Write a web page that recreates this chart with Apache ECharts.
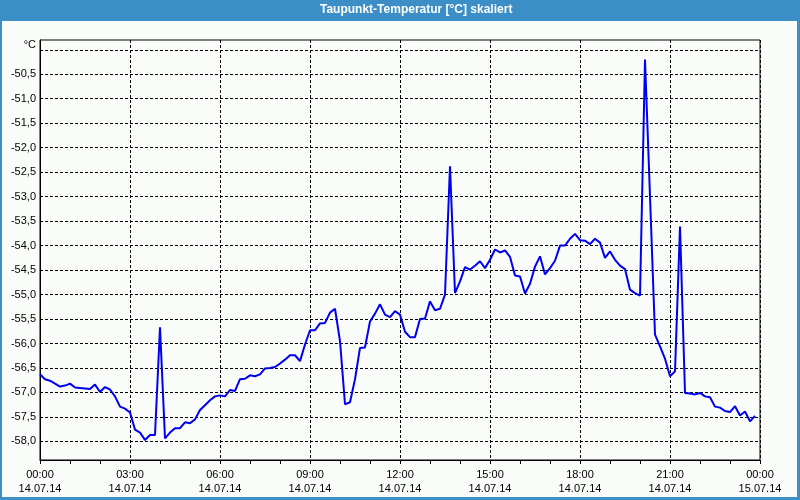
<!DOCTYPE html>
<html>
<head>
<meta charset="utf-8">
<script src="https://cdn.jsdelivr.net/npm/echarts@6/dist/echarts.min.js"></script>
<style>
html,body{margin:0;padding:0;background:#fafcfa;}
#chart{width:800px;height:500px;}
</style>
</head>
<body>
<div id="chart"></div>
<script>
// Title
var chartTitle = 'Taupunkt-Temperatur [°C] skaliert';

// Sampling: one value every 10 minutes starting 14.07.14 00:00
var stepMinutes = 10;

// Dew point temperature values [°C]
var dewPoint = [
  -56.63, -56.73, -56.76, -56.82, -56.88, -56.86, -56.82, -56.90, -56.91, -56.92,
  -56.93, -56.84, -56.99, -56.89, -56.94, -57.08, -57.29, -57.33, -57.41, -57.76,
  -57.82, -57.97, -57.87, -57.87, -55.67, -57.94, -57.82, -57.73, -57.73, -57.61,
  -57.63, -57.55, -57.36, -57.26, -57.16, -57.08, -57.06, -57.08, -56.95, -56.97,
  -56.73, -56.72, -56.65, -56.67, -56.63, -56.51, -56.50, -56.48, -56.41, -56.33,
  -56.24, -56.24, -56.36, -56.02, -55.73, -55.73, -55.59, -55.58, -55.37, -55.29,
  -55.95, -57.24, -57.20, -56.73, -56.09, -56.08, -55.55, -55.39, -55.20, -55.41,
  -55.46, -55.34, -55.41, -55.76, -55.87, -55.87, -55.50, -55.49, -55.14, -55.32,
  -55.29, -55.00, -52.38, -54.97, -54.73, -54.44, -54.49, -54.41, -54.32, -54.46,
  -54.29, -54.08, -54.14, -54.10, -54.23, -54.61, -54.63, -54.98, -54.78, -54.43,
  -54.22, -54.59, -54.46, -54.31, -54.00, -54.00, -53.86, -53.76, -53.89, -53.90,
  -53.97, -53.86, -53.94, -54.25, -54.12, -54.29, -54.41, -54.48, -54.90, -54.97,
  -55.02, -50.20, -52.99, -55.82, -56.06, -56.31, -56.67, -56.57, -53.61, -57.01,
  -57.02, -57.04, -57.01, -57.08, -57.10, -57.29, -57.31, -57.38, -57.40, -57.28,
  -57.47, -57.39, -57.59, -57.48
];

// X axis ticks (hours since 14.07.14 00:00)
var xTickValues = [0, 3, 6, 9, 12, 15, 18, 21, 24];
var xTickLabels = [
  '00:00\n14.07.14', '03:00\n14.07.14', '06:00\n14.07.14', '09:00\n14.07.14',
  '12:00\n14.07.14', '15:00\n14.07.14', '18:00\n14.07.14', '21:00\n14.07.14',
  '00:00\n15.07.14'
];

// Y axis ticks
var yTickValues = [-58, -57.5, -57, -56.5, -56, -55.5, -55, -54.5, -54, -53.5, -53, -52.5, -52, -51.5, -51, -50.5, -50];
var yTickLabels = ['-58,0', '-57,5', '-57,0', '-56,5', '-56,0', '-55,5', '-55,0', '-54,5', '-54,0', '-53,5', '-53,0', '-52,5', '-52,0', '-51,5', '-51,0', '-50,5', '°C'];

var seriesData = dewPoint.map(function (v, i) { return [i * stepMinutes / 60, v]; });

var font = '"Liberation Sans", Arial, sans-serif';
var chart = echarts.init(document.getElementById('chart'), null, {renderer: 'canvas'});

chart.setOption({
  animation: false,
  backgroundColor: '#fafcfa',
  textStyle: {fontFamily: font},
  graphic: [
    {type: 'rect', shape: {x: 0, y: 0, width: 800, height: 21}, style: {fill: '#3c8fc6'}, z: -1},
    {type: 'rect', shape: {x: 0, y: 0, width: 2, height: 500}, style: {fill: '#3c8fc6'}, z: -1},
    {type: 'rect', shape: {x: 797, y: 0, width: 3, height: 500}, style: {fill: '#3c8fc6'}, z: -1},
    {type: 'rect', shape: {x: 0, y: 497, width: 800, height: 3}, style: {fill: '#3c8fc6'}, z: -1}
  ],
  title: {
    text: chartTitle,
    left: 320,
    top: 4,
    padding: 0,
    textStyle: {color: '#ffffff', fontWeight: 'bold', fontSize: 12, fontFamily: font}
  },
  grid: {
    left: 40, top: 40, width: 720, height: 420,
    show: true, borderColor: '#000', borderWidth: 1, backgroundColor: 'transparent'
  },
  xAxis: {
    type: 'value',
    min: 0, max: 24, interval: 3,
    axisLine: {show: true, lineStyle: {color: '#000', width: 1}},
    axisTick: {show: true, inside: false, length: 4, lineStyle: {color: '#000'}},
    minorTick: {show: true, splitNumber: 3, length: 4, lineStyle: {color: '#000'}},
    splitLine: {show: true, lineStyle: {color: '#000', type: [3, 2], width: 1}},
    axisLabel: {
      margin: 8, color: '#000', fontSize: 11, lineHeight: 14, fontFamily: font,
      formatter: function (v) { var k = xTickValues.indexOf(v); return k >= 0 ? xTickLabels[k] : ''; }
    }
  },
  yAxis: {
    type: 'value',
    min: -58.38, max: -49.8,
    axisLine: {show: true, onZero: false, lineStyle: {color: '#000', width: 1}},
    axisTick: {show: false, customValues: yTickValues},
    splitLine: {show: true, lineStyle: {color: '#000', type: [3, 2], width: 1}},
    axisLabel: {
      customValues: yTickValues,
      margin: 4, color: '#000', fontSize: 11, fontFamily: font,
      formatter: function (v) {
        var k = -1;
        for (var j = 0; j < yTickValues.length; j++) { if (Math.abs(yTickValues[j] - v) < 1e-6) k = j; }
        if (k < 0) return '';
        return k === yTickValues.length - 1 ? '{u|' + yTickLabels[k] + '}' : yTickLabels[k];
      },
      rich: {u: {fontSize: 11, color: '#000', fontFamily: font, padding: [0, 0, 10, 0]}}
    }
  },
  series: [{
    type: 'line',
    data: seriesData,
    showSymbol: false,
    symbol: 'none',
    lineStyle: {color: '#0000f0', width: 2},
    z: 3
  }]
});
</script>
</body>
</html>
